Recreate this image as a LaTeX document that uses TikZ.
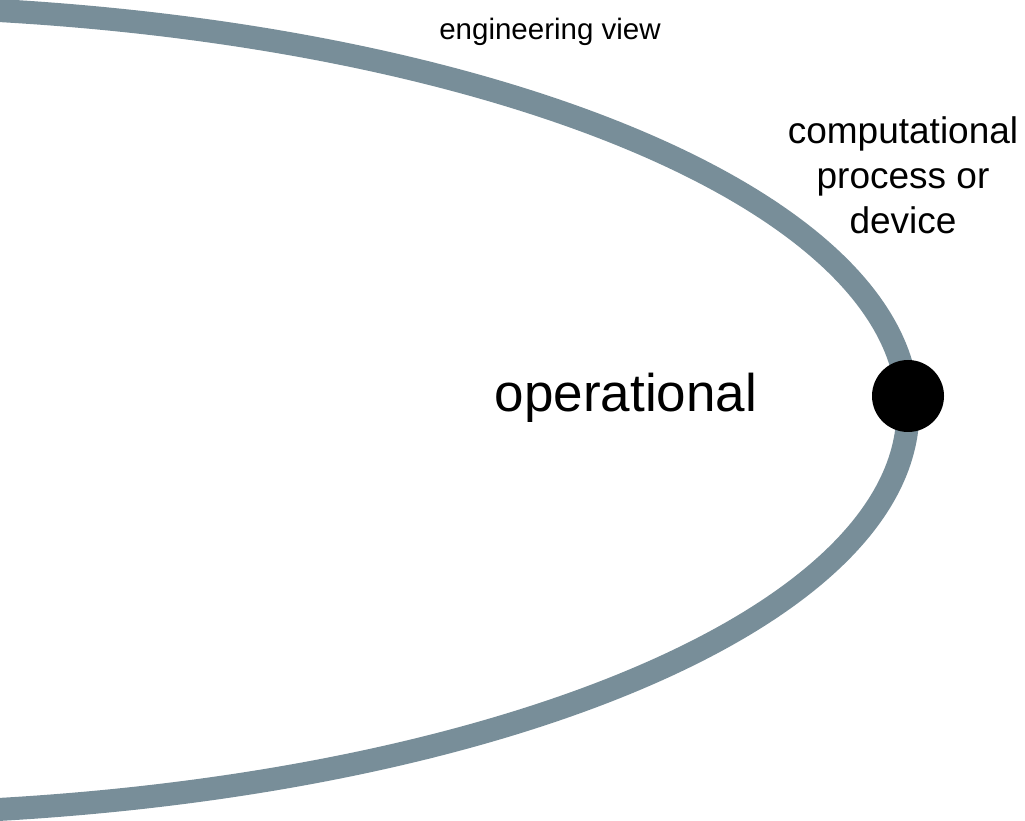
\documentclass[tikz,border=0pt]{standalone}
\usepackage{fontspec}
\setmainfont{Liberation Sans}
\definecolor{orbitgrey}{RGB}{120,142,153}
\begin{document}
\begin{tikzpicture}[x=1pt,y=1pt]
    \useasboundingbox (0,0) rectangle (1025,820);
    \clip (0,0) rectangle (1025,820);
    % Draw the orbit
    \draw[orbitgrey, line width=23pt] (-162,410) ellipse [x radius=1070, y radius=404];
    % Draw the device dot
    \node[circle, fill=black, minimum size=72pt, inner sep=0pt] (dot) at (908,424) {};
    % Label the views
    \node[font=\fontsize{29.5}{35}\selectfont] (view) at (550,788) {engineering view};
    \node[align=center, font=\fontsize{37}{45}\selectfont] (device) at (903,645) {computational\\process or\\device};
    \node[font=\fontsize{53}{60}\selectfont] (oper) at (626,422) {operational};
\end{tikzpicture}
\end{document}
